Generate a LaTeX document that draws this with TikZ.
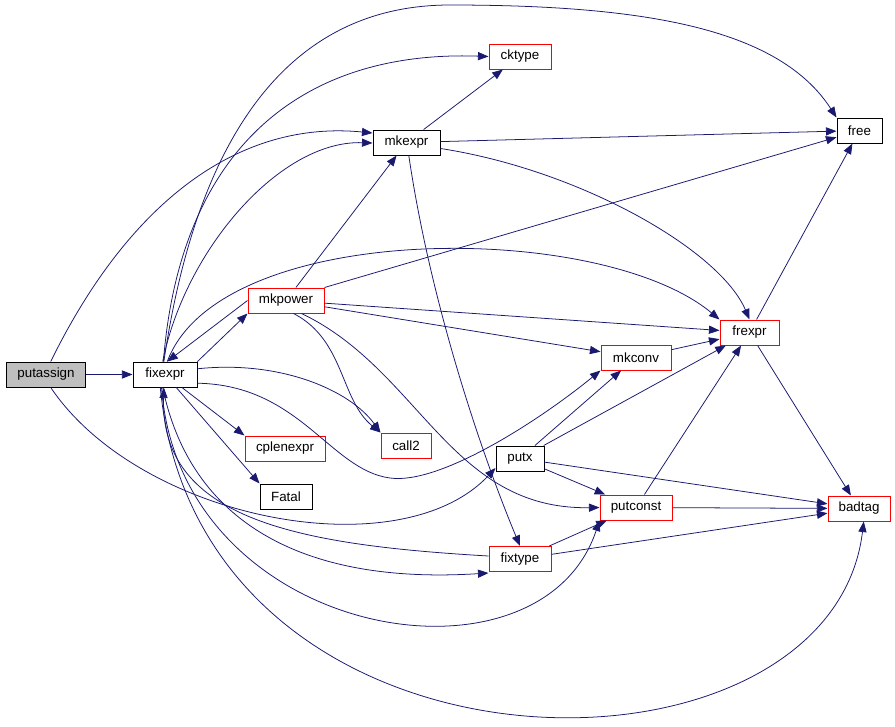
\documentclass[tikz,border=0pt]{standalone}
\usepackage{fontspec}
\setmainfont{Liberation Sans}
\usepackage{xcolor}
\usetikzlibrary{arrows.meta}
\definecolor{edgeblue}{HTML}{191970}

\begin{document}
\begin{tikzpicture}[x=0.025cm, y=-0.025cm, >={Triangle[length=7.5pt,width=5.8pt]},
    fn/.style={rectangle, draw=black, line width=0.7pt, inner sep=0pt, minimum height=0.625cm, font=\fontsize{9.5}{11}\selectfont},
    fnred/.style={fn, draw=red},
    fncur/.style={fn, fill=black!25},
    call/.style={->, draw=edgeblue, line width=0.55pt}]
    \useasboundingbox (0,0) rectangle (895,726);

    % functions
    \node[fncur, minimum width=1.95cm] (putassign) at (46,374.5) {putassign};
    \node[fn, minimum width=1.6cm] (fixexpr) at (165,374.5) {fixexpr};
    \node[fnred, minimum width=1.9cm] (mkpower) at (286,300.5) {mkpower};
    \node[fn, minimum width=1.675cm] (mkexpr) at (406.5,142.5) {mkexpr};
    \node[fnred, minimum width=1.55cm] (cktype) at (520,56.5) {cktype};
    \node[fn, minimum width=1.125cm] (free) at (859.5,130.5) {free};
    \node[fnred, minimum width=1.475cm] (frexpr) at (749.5,332.5) {frexpr};
    \node[fnred, minimum width=1.75cm] (mkconv) at (636,357.5) {mkconv};
    \node[fnred, minimum width=2.0cm] (cplenexpr) at (285,448.5) {cplenexpr};
    \node[fnred, minimum width=1.25cm] (call2) at (406,445.5) {call2};
    \node[fn, minimum width=1.3cm] (Fatal) at (286,496.5) {Fatal};
    \node[fn, minimum width=1.2cm] (putx) at (520,458.5) {putx};
    \node[fnred, minimum width=1.8cm] (putconst) at (636,507.5) {putconst};
    \node[fnred, minimum width=1.55cm] (fixtype) at (520,559) {fixtype};
    \node[fnred, minimum width=1.55cm] (badtag) at (859,508.5) {badtag};

    % calls from putassign
    \draw[call] (putassign) -- (fixexpr);
    \draw[call] (putassign.70) .. controls (130,200) and (240,120) .. (mkexpr.west |- 0,133);
    \draw[call] (putassign.-70) .. controls (140,520) and (400,570) .. (putx.west |- 0,468);

    % calls from fixexpr
    \draw[call] (fixexpr.100) .. controls (185,250) and (280,140) .. (mkexpr.west |- 0,143);
    \draw[call] (fixexpr.97) .. controls (180,150) and (300,50) .. (cktype.west);
    \draw[call] (fixexpr.95) .. controls (195,150) and (280,5) .. (450,5)
        .. controls (650,5) and (780,30) .. (free.north west);
    \draw[call] (fixexpr.80) .. controls (220,220) and (600,220) .. (frexpr.north west);
    \draw[call] (fixexpr.north east) -- (mkpower.south west);
    \draw[call] (mkpower.west) -- (fixexpr.80);
    \draw[call] (fixexpr) -- (cplenexpr.north west);
    \draw[call] (fixexpr) -- (Fatal.north west);
    \draw[call] (fixexpr.10) .. controls (280,360) and (350,390) .. (call2.north west);
    \draw[call] (fixexpr.-15) .. controls (300,385) and (330,470) .. (390,478)
        .. controls (440,485) and (540,420) .. (mkconv.south west);
    \draw[call] (fixexpr.-100) .. controls (190,520) and (300,585) .. (fixtype.west |- 0,573);
    \draw[call] (fixtype.west |- 0,556) .. controls (300,545) and (160,520) .. (fixexpr.-95);
    \draw[call] (fixexpr.-105) .. controls (180,640) and (540,700) .. (putconst.south west);
    \draw[call] (fixexpr.-110) .. controls (200,800) and (830,800) .. (badtag.-70);

    % calls from mkexpr
    \draw[call] (mkexpr) -- (cktype);
    \draw[call] (mkexpr) -- (free);
    \draw[call] (mkexpr.-10) .. controls (580,170) and (720,250) .. (frexpr.north);
    \draw[call] (mkexpr.-80) .. controls (430,300) and (480,450) .. (fixtype.north);

    % calls from mkpower
    \draw[call] (mkpower) -- (mkexpr);
    \draw[call] (mkpower.north east) -- (free);
    \draw[call] (mkpower) -- (frexpr);
    \draw[call] (mkpower) -- (mkconv);
    \draw[call] (mkpower.-60) .. controls (345,340) and (340,400) .. (call2.north west);
    \draw[call] (mkpower.-40) .. controls (420,370) and (450,510) .. (putconst.west);

    % calls from the rest
    \draw[call] (mkconv) -- (frexpr);
    \draw[call] (frexpr) -- (free);
    \draw[call] (frexpr) -- (badtag);
    \draw[call] (putx) -- (mkconv);
    \draw[call] (putx) -- (frexpr);
    \draw[call] (putx) -- (badtag);
    \draw[call] (putx) -- (putconst);
    \draw[call] (putconst) -- (frexpr);
    \draw[call] (putconst) -- (badtag);
    \draw[call] (fixtype) -- (putconst);
    \draw[call] (fixtype) -- (badtag);
\end{tikzpicture}
\end{document}
